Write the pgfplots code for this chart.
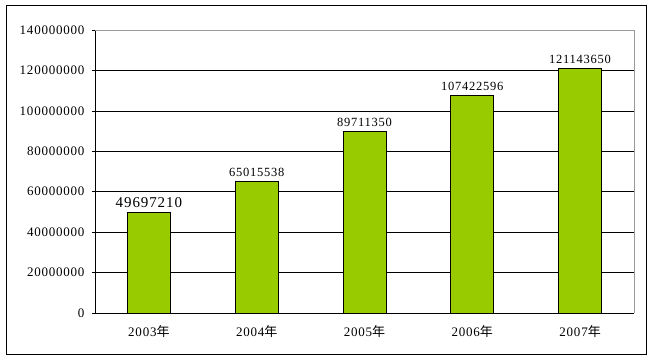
\documentclass[border=0pt]{standalone}
\usepackage{pgfplots}
\pgfplotsset{compat=1.18}
\usepackage{fontspec}
\setmainfont{Liberation Serif}[LetterSpace=6]
\newfontfamily\cjk{Noto Sans CJK SC}
\definecolor{bargreen}{HTML}{99CC00}
\begin{document}
\begin{tikzpicture}[x=1pt,y=1pt]
\fill[white] (0,0) rectangle (653,361);
\draw[black, line width=1pt] (6,6) rectangle (646,355);
\begin{axis}[
  /pgf/number format/assume math mode=true,
  at={(95pt,48pt)}, anchor=south west,
  scale only axis, width=539pt, height=283pt,
  xmin=-0.5, xmax=4.5, ymin=0, ymax=140000000,
  axis lines=left, axis line style={-, black, line width=0.8pt},
  xtick={0,1,2,3,4},
  xticklabels={2003{\cjk 年},2004{\cjk 年},2005{\cjk 年},2006{\cjk 年},2007{\cjk 年}},
  xticklabel style={font=\fontsize{13}{14}\selectfont, yshift=-6pt},
  xtick style={draw=none},
  extra x ticks={0.5,1.5,2.5,3.5,4.5},
  extra x tick labels={},
  extra x tick style={major tick length=3pt, tick style={draw=black, line width=0.6pt}, xtick pos=bottom, tick align=inside, grid=none},
  ytick={0,20000000,40000000,60000000,80000000,100000000,120000000,140000000},
  yticklabels={\mbox{0},\mbox{20000000},\mbox{40000000},\mbox{60000000},\mbox{80000000},\mbox{100000000},\mbox{120000000},\mbox{140000000}},
  scaled y ticks=false,
  yticklabel style={font=\fontsize{13}{14}\selectfont, xshift=-4pt},
  ytick style={black, line width=0.6pt},
  tick align=outside, major tick length=3pt,
  ymajorgrids, grid style={black, line width=0.6pt},
  clip=false,
]
\addplot[ybar, bar width=43pt, fill=bargreen, draw=black, line width=0.8pt,
  nodes near coords={\pgfplotspointmeta},
  point meta=explicit symbolic,
  every node near coord/.append style={font=\fontsize{12.5}{13}\selectfont, black, yshift=1pt}]
  coordinates {(1,65015538)[65015538] (2,89711350)[89711350] (3,107422596)[107422596] (4,121143650)[121143650]};
\addplot[ybar, bar width=43pt, fill=bargreen, draw=black, line width=0.8pt,
  nodes near coords={49697210},
  every node near coord/.append style={font=\fontsize{15}{16}\selectfont, black, yshift=1pt}]
  coordinates {(0,49697210)};
\draw[gray!80, line width=0.8pt] (rel axis cs:0,1) -- (rel axis cs:1,1) -- (rel axis cs:1,0);
\end{axis}
\end{tikzpicture}
\end{document}
